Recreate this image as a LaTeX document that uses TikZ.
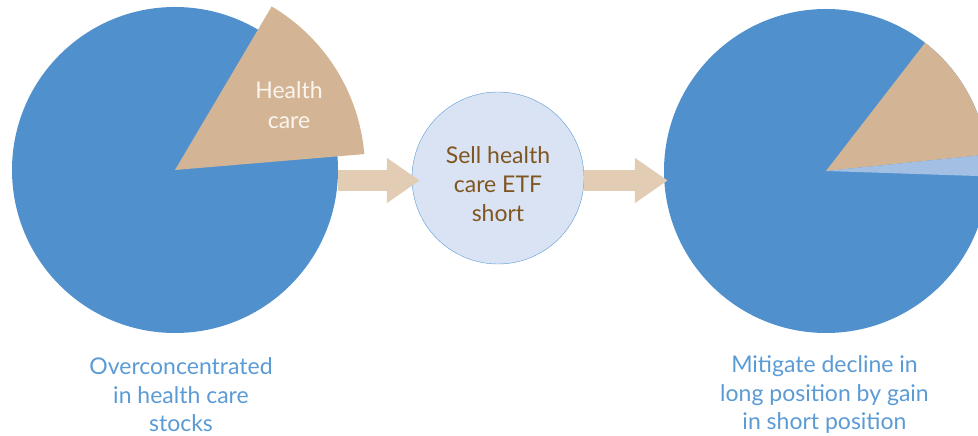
\documentclass[tikz,border=0pt]{standalone}
\usepackage{fontspec}
\setmainfont{Lato}
\usetikzlibrary{arrows.meta}

\definecolor{pieblue}{RGB}{80,145,205}
\definecolor{pietan}{RGB}{211,181,150}
\definecolor{pielight}{RGB}{164,191,228}
\definecolor{arrowtan}{RGB}{226,205,180}
\definecolor{ringfill}{RGB}{218,227,243}
\definecolor{ringline}{RGB}{91,155,213}
\definecolor{ringtext}{RGB}{127,86,32}
\definecolor{captionblue}{RGB}{91,155,213}

\tikzstyle{pie}=[circle,fill=pieblue,inner sep=0pt]
\tikzstyle{ring}=[draw=ringline,fill=ringfill,circle,minimum size=172pt,inner sep=0pt]
\tikzstyle{ringlabel}=[font=\fontsize{23}{29}\selectfont,text=ringtext,align=center]
\tikzstyle{bigarrow}=[draw=arrowtan,line width=21pt,-{Triangle[width=43pt,length=33pt]}]
\tikzstyle{caption}=[font=\fontsize{23}{28.5}\selectfont,text=captionblue,align=center]
\tikzstyle{slicelabel}=[font=\fontsize{23}{30}\selectfont,text={rgb,255:red,251;green,245;blue,238},align=center]

\begin{document}
\begin{tikzpicture}[x=1pt,y=1pt]
    \useasboundingbox (0,0) rectangle (978,436);
    \clip (0,0) rectangle (978,436);
    % First we draw the two pies
    \node[pie,minimum size=326pt] (lpie) at (175,266) {};
    \node[pie,minimum size=324pt] (rpie) at (826,265) {};
    % Slices on top of the pies
    \fill[pietan] (lpie.center) -- ++(4.8:190) arc[start angle=4.8,end angle=59.4,radius=190] -- cycle;
    \fill[pietan] (rpie.center) -- ++(5.8:162) arc[start angle=5.8,end angle=52.3,radius=162] -- cycle;
    \fill[pielight] (rpie.center) -- ++(-1.9:162) arc[start angle=-1.9,end angle=5.8,radius=162] -- cycle;
    \node[slicelabel] (hc) at (289,331) {Health\\care};
    % The middle step and the arrows
    \node[ring] (sell) at (498,258) {};
    \node[ringlabel] (selltext) at (498,252) {Sell health\\care ETF\\short};
    \coordinate (in) at ([yshift=-2.5pt]sell.west);
    \coordinate (out) at ([yshift=-2.5pt]sell.east);
    \path[bigarrow,shorten >=-8pt] (lpie.east |- in) -- (in);
    \path[bigarrow,shorten >=-4pt] (out) -- (rpie.west |- out);
    % Captions under the pies
    \node[caption] (lcap) at (181,41) {Overconcentrated\\in health care\\stocks};
    \node[caption] (rcap) at (824.5,41) {Mitigate decline in\\long position by gain\\in short position};
\end{tikzpicture}
\end{document}
